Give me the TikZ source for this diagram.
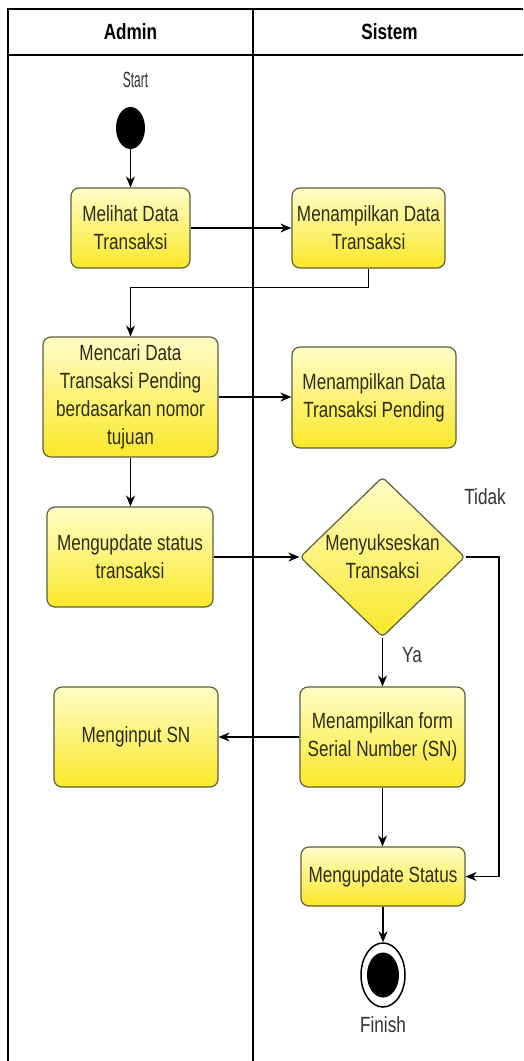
\documentclass[tikz,border=0pt]{standalone}
\usepackage{fontspec}
\setmainfont{Liberation Sans}[FakeStretch=0.78]
\usetikzlibrary{shapes.geometric,arrows.meta,calc}
\definecolor{boxline}{RGB}{95,95,60}
\definecolor{boxtop}{RGB}{255,253,200}
\definecolor{boxbot}{RGB}{250,232,40}
\definecolor{txt}{RGB}{45,45,25}
\definecolor{lbl}{RGB}{50,50,50}
\begin{document}
\begin{tikzpicture}[x=1pt,y=-1pt,
  every node/.style={font=\fontsize{22}{28}\selectfont},
  frame/.style={line width=1.5pt,black},
  act/.style={draw=boxline,line width=1.2pt,rounded corners=8pt,
    top color=boxtop,bottom color=boxbot,align=center,text=txt,inner sep=0pt},
  decision/.style={act,shape=diamond,rounded corners=4pt},
  label/.style={text=lbl,inner sep=0pt},
  hdr/.style={font=\fontsize{22}{28}\selectfont\bfseries,inner sep=0pt},
  arr/.style={line width=1.3pt,-{Stealth[length=11pt,width=9pt]}}]
\useasboundingbox (0,0) rectangle (523,1061);
\fill[white] (0,0) rectangle (523,1061);

% swimlane frame
\draw[frame] (8,1061) -- (8,9) -- (523,9);
\draw[frame] (8,55) -- (523,55);
\draw[frame] (253,9) -- (253,1061);
\node[hdr] (hadmin) at (130.5,32) {Admin};
\node[hdr] (hsistem) at (389.5,32) {Sistem};

% start
\node[label] (tstart) at (135.5,80) {\scalebox{0.7}[1]{Start}};
\node[ellipse,fill=black,minimum width=29pt,minimum height=42pt,inner sep=0pt] (start) at (130.5,128) {};

% activities
\node[act,minimum width=119pt,minimum height=80pt] (b1) at (130.5,228) {Melihat Data\\Transaksi};
\node[act,minimum width=153pt,minimum height=80pt] (b2) at (368.5,228) {Menampilkan Data\\Transaksi};
\node[act,minimum width=175pt,minimum height=120pt] (b3) at (130.5,397) {Mencari Data\\Transaksi Pending\\berdasarkan nomor\\tujuan};
\node[act,minimum width=164pt,minimum height=101pt] (b4) at (374,397.5) {Menampilkan Data\\Transaksi Pending};
\node[act,minimum width=166pt,minimum height=100pt] (b5) at (130,557) {Mengupdate status\\transaksi};
\node[decision,minimum width=165pt,minimum height=160pt] (dec) at (382.5,557) {Menyukseskan\\Transaksi};
\node[act,minimum width=165pt,minimum height=100pt] (b6) at (382.5,737) {Menampilkan form\\Serial Number (SN)};
\node[act,minimum width=164pt,minimum height=100pt] (b7) at (136,737) {Menginput SN};
\node[act,minimum width=164pt,minimum height=59pt] (b8) at (383,876.5) {Mengupdate Status};

% end
\node[ellipse,draw=black,line width=1.5pt,fill=white,minimum width=44pt,minimum height=64pt,inner sep=0pt] (finish) at (383,975) {};
\node[ellipse,fill=black,minimum width=32pt,minimum height=45pt,inner sep=0pt] (finishdot) at (383,975) {};
\node[label] (tfinish) at (383,1025) {Finish};

% labels on branches
\node[label] (ttidak) at (485,497) {Tidak};
\node[label] (tya) at (412,655) {Ya};
\coordinate (tk) at (499,557);

% flow
\draw[arr] (start) -- (b1);
\draw[arr] (b1.east) -- (b2.west);
\draw[arr] (b2.south) -- ++(0,19) -| (b3.north);
\draw[arr] (b3.east) -- (b3.east -| b4.west);
\draw[arr] (b3.south) -- (b3.south |- b5.north);
\draw[arr] (b5.east) -- (dec.west);
\draw[arr] (dec.south) -- (dec.south |- b6.north);
\draw[arr] (dec.east) -- (tk) |- (b8.east);
\draw[arr] (b6.west) -- (b7.east);
\draw[arr] (b6.south) -- (b6.south |- b8.north);
\draw[arr] (b8.south) -- (finish.north);
\end{tikzpicture}
\end{document}
